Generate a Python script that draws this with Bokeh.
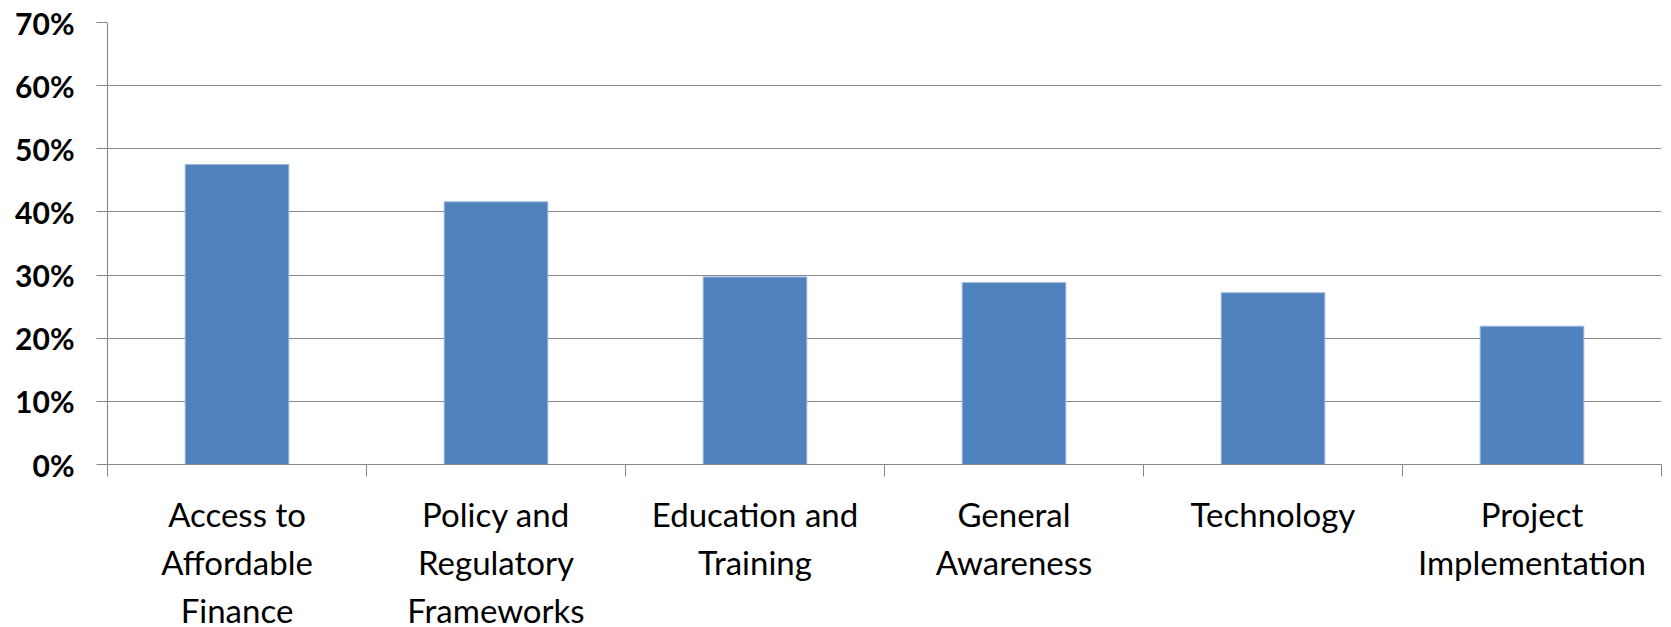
from bokeh.plotting import figure
from bokeh.models import Range1d, FixedTicker, NumeralTickFormatter
from bokeh.embed import file_html
from bokeh.resources import INLINE
import numpy as np

categories = ["Access to\nAffordable\nFinance", "Policy and\nRegulatory\nFrameworks",
              "Education and\nTraining", "General\nAwareness", "Technology",
              "Project\nImplementation"]
values = [0.475, 0.416, 0.297, 0.288, 0.272, 0.219]
y_ticks = [0.0, 0.1, 0.2, 0.3, 0.4, 0.5, 0.6, 0.7]

n = len(categories)
centers = np.arange(n) + 0.5

p = figure(frame_width=1554, frame_height=442, output_backend="svg", toolbar_location=None,
           x_range=Range1d(0, n), y_range=Range1d(0, 0.7),
           min_border_left=107, min_border_right=1, min_border_top=22, min_border_bottom=160)
p.outline_line_color = None
p.background_fill_color = "white"
p.border_fill_color = "white"

p.vbar(x=centers, top=values, width=0.40, fill_color="#4F81BD", line_color="#9DB7DA", line_width=1)

# y axis
p.yaxis.ticker = FixedTicker(ticks=y_ticks, minor_ticks=[])
p.yaxis.formatter = NumeralTickFormatter(format="0%")
p.yaxis.axis_line_color = "#868686"
p.yaxis.major_tick_line_color = "#868686"
p.yaxis.major_tick_out = 11
p.yaxis.major_tick_in = 0
p.yaxis.minor_tick_line_color = None
p.yaxis.major_label_text_font = "Lato"
p.yaxis.major_label_text_font_style = "bold"
p.yaxis.major_label_text_font_size = "30px"
p.yaxis.major_label_text_color = "black"
p.yaxis.major_label_standoff = 22

# x axis
p.xaxis.ticker = FixedTicker(ticks=list(centers), minor_ticks=list(range(n + 1)))
p.xaxis.major_label_overrides = {float(c): lab for c, lab in zip(centers, categories)}
p.xaxis.axis_line_color = "#868686"
p.xaxis.major_tick_line_color = None
p.xaxis.major_tick_out = 0
p.xaxis.major_tick_in = 0
p.xaxis.minor_tick_line_color = "#868686"
p.xaxis.minor_tick_out = 12
p.xaxis.minor_tick_in = 0
p.xaxis.major_label_text_font = "Lato"
p.xaxis.major_label_text_font_size = "33px"
p.xaxis.major_label_text_color = "black"
p.xaxis.major_label_standoff = 17

p.xgrid.grid_line_color = None
p.ygrid.grid_line_color = "#868686"
p.ygrid.grid_line_width = 1

open("out.html", "w").write(file_html(p, INLINE))
